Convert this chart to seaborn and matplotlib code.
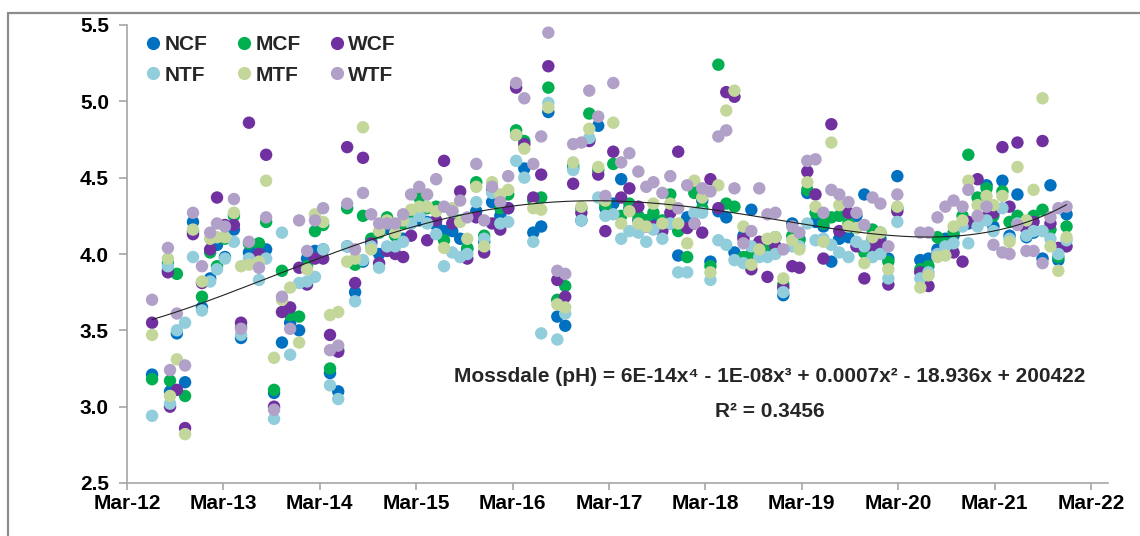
import numpy as np
import pandas as pd
import matplotlib
matplotlib.use("Agg")
import matplotlib.pyplot as plt
import matplotlib.dates as mdates
from matplotlib.lines import Line2D
from matplotlib.patches import Rectangle
import seaborn as sns

# Sampling dates and pH values per site
dates = [
    "2012-06-04", "2012-08-03", "2012-08-11", "2012-09-06", "2012-10-07", "2012-11-06",
    "2012-12-10", "2013-01-10", "2013-02-05", "2013-03-07", "2013-04-10", "2013-05-07",
    "2013-06-06", "2013-07-14", "2013-08-10", "2013-09-09", "2013-10-09", "2013-11-09",
    "2013-12-13", "2014-01-12", "2014-02-11", "2014-03-14", "2014-04-09", "2014-05-10",
    "2014-06-13", "2014-07-13", "2014-08-12", "2014-09-12", "2014-10-12", "2014-11-11",
    "2014-12-12", "2015-01-11", "2015-02-10", "2015-03-13", "2015-04-12", "2015-05-16",
    "2015-06-15", "2015-07-16", "2015-08-15", "2015-09-11", "2015-10-15", "2015-11-14",
    "2015-12-14", "2016-01-14", "2016-02-13", "2016-03-14", "2016-04-14", "2016-05-18",
    "2016-06-17", "2016-07-14", "2016-08-17", "2016-09-16", "2016-10-16", "2016-11-16",
    "2016-12-16", "2017-01-19", "2017-02-15", "2017-03-17", "2017-04-16", "2017-05-17",
    "2017-06-20", "2017-07-20", "2017-08-16", "2017-09-19", "2017-10-19", "2017-11-18",
    "2017-12-22", "2018-01-18", "2018-02-17", "2018-03-20", "2018-04-19", "2018-05-19",
    "2018-06-19", "2018-07-23", "2018-08-22", "2018-09-21", "2018-10-22", "2018-11-21",
    "2018-12-21", "2019-01-24", "2019-02-20", "2019-03-22", "2019-04-22", "2019-05-22",
    "2019-06-21", "2019-07-21", "2019-08-25", "2019-09-24", "2019-10-24", "2019-11-24",
    "2019-12-24", "2020-01-23", "2020-02-26", "2020-05-23", "2020-06-23", "2020-07-27",
    "2020-08-26", "2020-09-26", "2020-10-30", "2020-11-21", "2020-12-26", "2021-01-29",
    "2021-02-24", "2021-03-30", "2021-04-26", "2021-05-26", "2021-06-29", "2021-07-26",
    "2021-08-29", "2021-09-28", "2021-10-28", "2021-11-28",
]

ncf = [3.21, 3.89, 3.10, 3.48, 3.16, 4.21, 3.65, 3.84, 4.06, 3.98, 4.16, 3.45,
       4.01, 4.03, 4.03, 3.09, 3.42, 3.55, 3.50, 3.97, 4.02, 4.03, 3.22, 3.10,
       4.05, 3.75, 3.95, 4.08, 4.00, 4.17, 4.18, 4.10, 4.20, 4.22, 4.21, 4.19,
       4.15, 4.15, 4.10, 4.03, 4.28, 4.08, 4.34, 4.25, 4.30, 4.78, 4.56, 4.14,
       4.18, 4.93, 3.59, 3.53, 4.56, 4.22, 4.75, 4.84, 4.30, 4.33, 4.49, 4.30,
       4.22, 4.22, 4.22, 4.18, 4.20, 3.99, 4.24, 4.44, 4.35, 3.95, 4.28, 4.24,
       4.01, 4.12, 4.29, 4.05, 4.05, 4.05, 3.73, 4.20, 4.10, 4.40, 4.21, 4.18,
       3.95, 4.10, 4.11, 4.25, 4.39, 4.10, 4.10, 3.97, 4.51, 3.96, 3.97, 4.03,
       4.10, 4.12, 4.20, 4.20, 4.20, 4.45, 4.18, 4.48, 4.12, 4.39, 4.11, 4.14,
       3.97, 4.45, 3.96, 4.26]
mcf = [3.18, 3.94, 3.17, 3.87, 3.07, 4.15, 3.72, 4.01, 3.92, 4.10, 4.25, 3.52,
       4.07, 4.07, 4.21, 3.11, 3.89, 3.60, 3.59, 3.92, 4.15, 4.19, 3.25, 3.37,
       4.30, 3.93, 4.25, 4.10, 4.14, 4.24, 4.12, 4.20, 4.24, 4.37, 4.30, 4.31,
       4.09, 4.28, 4.22, 4.04, 4.47, 4.12, 4.42, 4.30, 4.39, 4.81, 4.74, 4.35,
       4.37, 5.09, 3.70, 3.79, 4.58, 4.30, 4.92, 4.55, 4.32, 4.59, 4.25, 4.33,
       4.25, 4.22, 4.27, 4.22, 4.39, 4.15, 3.98, 4.40, 4.30, 3.92, 5.24, 4.33,
       4.31, 3.98, 4.00, 4.07, 4.06, 4.11, 3.80, 4.12, 4.09, 4.42, 4.27, 4.20,
       4.24, 4.25, 4.20, 4.17, 4.01, 4.16, 4.14, 3.95, 4.30, 3.90, 3.92, 4.11,
       4.07, 4.14, 4.25, 4.65, 4.37, 4.43, 4.25, 4.41, 4.21, 4.25, 4.18, 4.25,
       4.29, 4.16, 3.98, 4.18]
wcf = [3.55, 3.88, 3.00, 3.11, 2.86, 4.13, 3.81, 4.03, 4.37, 4.19, 4.19, 3.55,
       4.86, 4.00, 4.65, 3.00, 3.62, 3.65, 3.91, 3.80, 3.97, 3.97, 3.47, 3.36,
       4.70, 3.81, 4.63, 4.07, 3.94, 4.02, 4.00, 3.98, 4.12, 4.25, 4.09, 4.22,
       4.61, 4.20, 4.41, 3.97, 4.24, 4.01, 4.20, 4.16, 4.30, 5.09, 4.72, 4.37,
       4.52, 5.23, 3.83, 3.72, 4.46, 4.27, 4.74, 4.52, 4.15, 4.67, 4.37, 4.43,
       4.31, 4.18, 4.18, 4.15, 4.27, 4.67, 4.17, 4.20, 4.14, 4.49, 4.30, 5.06,
       5.03, 4.10, 3.90, 4.08, 3.85, 4.05, 3.78, 3.92, 3.91, 4.54, 4.39, 3.97,
       4.85, 4.15, 4.27, 4.05, 3.84, 4.05, 4.07, 3.80, 4.28, 3.88, 3.79, 4.00,
       4.02, 4.01, 3.95, 4.21, 4.49, 4.24, 4.27, 4.70, 4.31, 4.73, 4.16, 4.21,
       4.74, 4.20, 4.04, 4.05]
ntf = [2.94, 3.92, 3.02, 3.50, 3.55, 3.98, 3.63, 3.82, 3.90, 3.97, 4.08, 3.47,
       3.97, 3.83, 3.97, 2.92, 4.14, 3.34, 3.81, 3.82, 3.85, 4.03, 3.14, 3.05,
       4.05, 3.69, 3.96, 4.05, 3.91, 4.05, 4.05, 4.08, 4.20, 4.25, 4.20, 4.13,
       3.92, 4.01, 3.98, 4.00, 4.34, 4.10, 4.40, 4.20, 4.21, 4.61, 4.50, 4.08,
       3.48, 4.99, 3.44, 3.61, 4.55, 4.22, 4.76, 4.37, 4.25, 4.26, 4.10, 4.15,
       4.14, 4.08, 4.16, 4.10, 4.20, 3.88, 3.88, 4.27, 4.27, 3.83, 4.09, 4.06,
       3.96, 3.94, 4.05, 3.98, 3.98, 4.00, 3.75, 4.05, 4.05, 4.20, 4.09, 4.10,
       4.06, 4.01, 3.98, 4.08, 4.05, 3.98, 4.00, 3.84, 4.21, 3.84, 3.88, 4.00,
       4.05, 4.07, 4.18, 4.07, 4.18, 4.22, 4.15, 4.30, 4.10, 4.20, 4.12, 4.15,
       4.15, 4.10, 4.00, 4.09]
mtf = [3.47, 3.97, 3.07, 3.31, 2.82, 4.16, 3.82, 4.10, 4.11, 4.11, 4.27, 3.92,
       3.93, 3.95, 4.48, 3.32, 3.70, 3.78, 3.42, 3.90, 4.26, 4.21, 3.60, 3.62,
       3.95, 3.97, 4.83, 4.03, 4.15, 4.22, 4.14, 4.22, 4.29, 4.31, 4.31, 4.28,
       4.04, 4.30, 4.21, 4.10, 4.44, 4.05, 4.47, 4.39, 4.42, 4.78, 4.69, 4.30,
       4.29, 4.96, 3.67, 3.65, 4.60, 4.31, 4.82, 4.57, 4.35, 4.86, 4.20, 4.28,
       4.20, 4.18, 4.33, 4.20, 4.33, 4.20, 4.07, 4.48, 4.37, 3.88, 4.45, 4.94,
       5.07, 4.18, 3.93, 4.03, 4.10, 4.11, 3.84, 4.09, 4.03, 4.47, 4.31, 4.08,
       4.73, 4.32, 4.18, 4.17, 3.94, 4.11, 4.14, 3.90, 4.31, 3.78, 3.86, 3.98,
       3.99, 4.18, 4.22, 4.48, 4.32, 4.38, 4.32, 4.38, 4.08, 4.57, 4.22, 4.42,
       5.02, 4.05, 3.89, 4.11]
wtf = [3.70, 4.04, 3.24, 3.61, 3.27, 4.27, 3.92, 4.14, 4.20, 4.18, 4.36, 3.51,
       4.08, 3.91, 4.24, 2.98, 3.72, 3.51, 4.22, 4.02, 4.22, 4.30, 3.37, 3.40,
       4.33, 4.03, 4.40, 4.26, 4.20, 4.20, 4.20, 4.26, 4.39, 4.44, 4.39, 4.49,
       4.31, 4.28, 4.35, 4.24, 4.59, 4.22, 4.44, 4.34, 4.51, 5.12, 5.02, 4.59,
       4.77, 5.45, 3.89, 3.87, 4.72, 4.73, 5.07, 4.90, 4.38, 5.12, 4.60, 4.66,
       4.54, 4.44, 4.47, 4.40, 4.51, 4.30, 4.45, 4.20, 4.43, 4.41, 4.77, 4.81,
       4.43, 4.07, 4.15, 4.43, 4.26, 4.27, 4.03, 4.18, 4.14, 4.61, 4.62, 4.27,
       4.42, 4.39, 4.34, 4.27, 4.19, 4.37, 4.33, 4.05, 4.39, 4.14, 4.14, 4.24,
       4.31, 4.35, 4.31, 4.42, 4.25, 4.31, 4.06, 4.01, 4.00, 4.19, 4.02, 4.02,
       3.94, 4.24, 4.30, 4.31]

series_names = ["NCF", "MCF", "WCF", "NTF", "MTF", "WTF"]
series_colors = ["#0070C0", "#00B050", "#7030A0", "#92CDDC", "#C4D79B", "#B1A0C7"]
y_ticks = [2.5, 3.0, 3.5, 4.0, 4.5, 5.0, 5.5]
equation_label = "Mossdale (pH) = 6E-14x\u2074 - 1E-08x\u00b3 + 0.0007x\u00b2 - 18.936x + 200422"
r2_label = "R\u00b2 = 0.3456"

wide = pd.DataFrame({"date": pd.to_datetime(dates), "NCF": ncf, "MCF": mcf, "WCF": wcf,
                     "NTF": ntf, "MTF": mtf, "WTF": wtf})
df = wide.melt(id_vars="date", var_name="series", value_name="pH")
palette = dict(zip(series_names, series_colors))

sns.set_style("white")
plt.rcParams["font.family"] = ["Liberation Sans", "DejaVu Sans"]
plt.rcParams["font.weight"] = "bold"

W, H = 1140, 536
fig = plt.figure(figsize=(W / 100, H / 100), dpi=100)
ax = fig.add_axes([127 / W, 1 - 483 / H, (1108 - 127) / W, (483 - 25) / H])

sns.scatterplot(data=df, x="date", y="pH", hue="series", hue_order=series_names,
                palette=palette, s=80, linewidth=0, alpha=1, legend=False, ax=ax,
                zorder=2)

# 4th-order polynomial trend through all sites
xnum = mdates.date2num(df["date"])
mask = ~np.isnan(df["pH"].values)
poly = np.polynomial.Polynomial.fit(xnum[mask], df["pH"].values[mask], 4)
xs = np.linspace(xnum[mask].min(), xnum[mask].max(), 400)
ax.plot(mdates.num2date(xs), poly(xs), color="#222222", lw=0.8, zorder=3)

ax.set_ylim(2.5, 5.5)
ax.set_yticks(y_ticks)
ax.yaxis.set_major_formatter(matplotlib.ticker.FormatStrFormatter("%.1f"))
ax.set_xlim(pd.Timestamp("2012-03-01"), pd.Timestamp("2022-05-04"))
ax.xaxis.set_major_locator(mdates.YearLocator(base=1, month=3, day=1))
ax.xaxis.set_major_formatter(mdates.DateFormatter("%b-%y"))
ax.set_xlabel("")
ax.set_ylabel("")

for side in ["top", "right"]:
    ax.spines[side].set_visible(False)
for side in ["left", "bottom"]:
    ax.spines[side].set_color("#A6A6A6")
    ax.spines[side].set_linewidth(1.2)
ax.tick_params(axis="y", direction="out", length=6, width=1.2, color="#A6A6A6",
               pad=7, labelsize=15, labelcolor="black", left=True)
ax.tick_params(axis="x", direction="out", length=5, width=1.2, color="#A6A6A6",
               pad=3, labelsize=15, labelcolor="black", bottom=True)
for lab in ax.get_xticklabels() + ax.get_yticklabels():
    lab.set_fontweight("bold")

# Legend: two rows of three
order = [0, 3, 1, 4, 2, 5]
handles = [Line2D([], [], marker="o", linestyle="", markersize=9.5,
                  markerfacecolor=series_colors[i], markeredgewidth=0) for i in order]
labels = [series_names[i] for i in order]
ax.legend(handles, labels, ncol=3, loc="upper left", bbox_to_anchor=(0.018, 0.978),
          frameon=False, handlelength=0.8, handletextpad=0.15,
          columnspacing=1.35, labelspacing=0.55, borderpad=0, borderaxespad=0,
          prop={"weight": "bold", "size": 15})

ax.text(0.655, 0.2336, equation_label, transform=ax.transAxes, ha="center",
        va="center", fontsize=15, fontweight="bold")
ax.text(0.655, 0.157, r2_label, transform=ax.transAxes, ha="center",
        va="center", fontsize=15, fontweight="bold")

# Chart frame
fig.add_artist(Rectangle((8 / W, -0.05), 1.0, 1 - 13 / H + 0.05, transform=fig.transFigure,
                         fill=False, edgecolor="#8C8C8C", lw=1.6, clip_on=False))

fig.savefig("out.png", dpi=100)
